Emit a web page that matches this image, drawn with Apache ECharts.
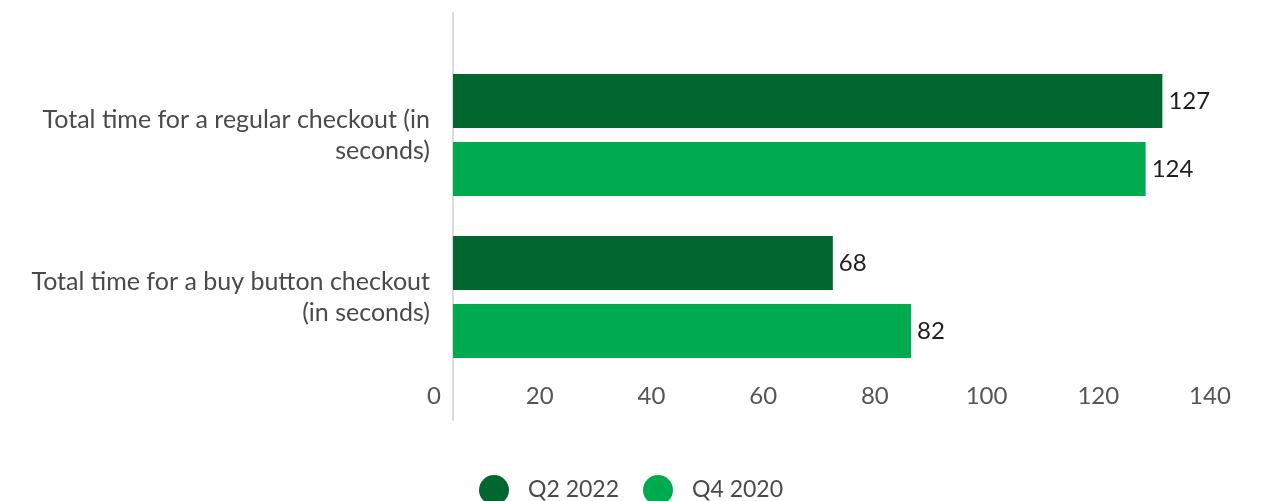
<!DOCTYPE html>
<html>
<head>
<meta charset="utf-8">
<script src="https://cdn.jsdelivr.net/npm/echarts@6/dist/echarts.min.js"></script>
<style>
  html, body { margin: 0; padding: 0; background: #ffffff; }
  #chart { width: 1262px; height: 501px; }
</style>
</head>
<body>
<div id="chart"></div>
<script>
// Checkout duration, in seconds
const categories = [
  'Total time for a regular checkout (in\nseconds)',
  'Total time for a buy button checkout\n(in seconds)'
];
const seriesNames = ['Q2 2022', 'Q4 2020'];
const q2_2022 = [127, 68];
const q4_2020 = [124, 82];
const xTicks = { min: 0, max: 140, interval: 20 };

const DARK = '#02662f';
const LIGHT = '#00aa4f';
const FONT = 'Lato';

const chart = echarts.init(document.getElementById('chart'), null, { renderer: 'canvas' });

const barLabel = {
  show: true,
  position: 'right',
  distance: 6,
  color: '#1e1e1e',
  fontFamily: FONT,
  fontSize: 24
};

chart.setOption({
  animation: false,
  backgroundColor: '#ffffff',
  textStyle: { fontFamily: FONT },
  legend: {
    data: seriesNames,
    bottom: -9,
    left: 'center',
    icon: 'circle',
    itemWidth: 30,
    itemHeight: 30,
    itemGap: 24,
    textStyle: {
      color: '#4a4a4a',
      fontFamily: FONT,
      fontSize: 23,
      padding: [0, 0, 0, 14]
    }
  },
  grid: [
    { left: 453, right: 27, top: 54, bottom: 123, containLabel: false },
    { left: 453, right: 27, top: 13, bottom: 81, containLabel: false }
  ],
  xAxis: [
    {
      type: 'value',
      gridIndex: 0,
      min: xTicks.min,
      max: xTicks.max,
      interval: xTicks.interval,
      splitLine: { show: false },
      axisLine: { show: false },
      axisTick: { show: false },
      axisLabel: {
        margin: 6,
        formatter: function (v) {
          return v === 0 ? '{z|' + v + '}' : '{n|' + v + '}';
        },
        rich: {
          z: { color: '#555555', fontFamily: FONT, fontSize: 24, padding: [0, 38, 0, 0] },
          n: { color: '#555555', fontFamily: FONT, fontSize: 24, padding: [0, 50, 0, 0] }
        }
      }
    },
    {
      type: 'value',
      gridIndex: 1,
      min: 0,
      max: 1,
      show: false
    }
  ],
  yAxis: [
    {
      type: 'category',
      gridIndex: 0,
      data: categories,
      inverse: true,
      axisLine: { show: false },
      axisTick: { show: false },
      axisLabel: {
        margin: 23,
        align: 'right',
        color: '#4a4a4a',
        fontFamily: FONT,
        fontSize: 25,
        lineHeight: 31,
        padding: [4, 0, 0, 0]
      }
    },
    {
      type: 'value',
      gridIndex: 1,
      min: 0,
      max: 1,
      axisLine: { show: true, lineStyle: { color: '#dcdcdc', width: 2 } },
      axisTick: { show: false },
      axisLabel: { show: false },
      splitLine: { show: false }
    }
  ],
  series: [
    {
      name: seriesNames[0],
      type: 'bar',
      xAxisIndex: 0,
      yAxisIndex: 0,
      data: q2_2022,
      barWidth: 54,
      barGap: '26%',
      itemStyle: { color: DARK },
      label: barLabel
    },
    {
      name: seriesNames[1],
      type: 'bar',
      xAxisIndex: 0,
      yAxisIndex: 0,
      data: q4_2020,
      barWidth: 54,
      barGap: '26%',
      itemStyle: { color: LIGHT },
      label: barLabel
    }
  ]
});
</script>
</body>
</html>
